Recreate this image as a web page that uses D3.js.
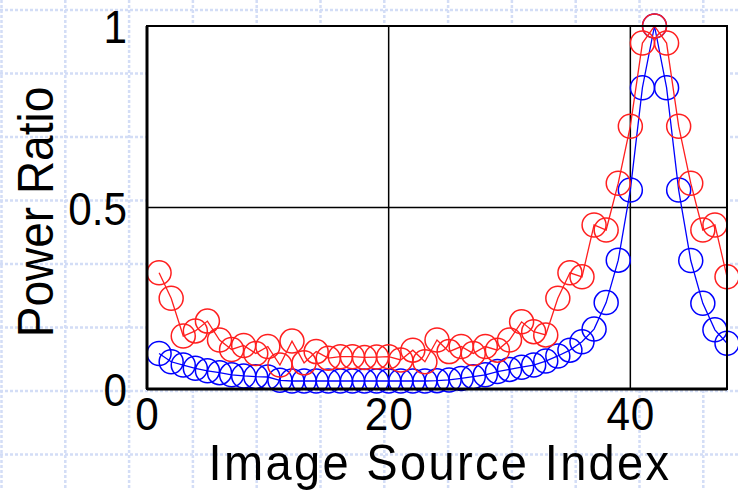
<!DOCTYPE html>
<html>
<head>
<meta charset="utf-8">
<script src="https://cdn.jsdelivr.net/npm/d3@7"></script>
<style>
body { margin: 0; background: #fff; }
text { font-family: "Liberation Sans", Arial, sans-serif; fill: #000; }
</style>
</head>
<body>
<script>

// image source index (x) for both series
var sourceIndex = [1, 2, 3, 4, 5, 6, 7, 8, 9, 10, 11, 12, 13, 14, 15, 16,
    17, 18, 19, 20, 21, 22, 23, 24, 25, 26, 27, 28, 29, 30, 31, 32,
    33, 34, 35, 36, 37, 38, 39, 40, 41, 42, 43, 44, 45, 46, 47, 48];

var redRatio = [0.32, 0.25, 0.146, 0.16, 0.187, 0.135, 0.109, 0.12, 0.098, 0.117, 0.066, 0.132,
    0.072, 0.103, 0.085, 0.089, 0.089, 0.087, 0.088, 0.089, 0.080, 0.107, 0.075, 0.135,
    0.103, 0.117, 0.098, 0.117, 0.107, 0.135, 0.185, 0.158, 0.149, 0.25, 0.32, 0.309,
    0.452, 0.438, 0.567, 0.724, 0.953, 1.0, 0.953, 0.724, 0.567, 0.438, 0.452, 0.309];

var blueRatio = [0.098, 0.075, 0.066, 0.057, 0.050, 0.045, 0.039, 0.036, 0.034, 0.033, 0.024, 0.022,
    0.022, 0.022, 0.022, 0.022, 0.022, 0.022, 0.022, 0.022, 0.022, 0.022, 0.022, 0.023,
    0.025, 0.029, 0.034, 0.039, 0.048, 0.054, 0.060, 0.066, 0.077, 0.091, 0.107, 0.13,
    0.165, 0.238, 0.355, 0.548, 0.83, 1.0, 0.83, 0.548, 0.354, 0.236, 0.163, 0.126];

var xTicks = [0, 20, 40];
var yTicks = [0, 0.5, 1];
var yTickLabels = ["0", "0.5", "1"];

var width = 738,
    height = 490,
    margin = {top: 26, right: 11, bottom: 101, left: 147};

var x = d3.scaleLinear().domain([0, 48]).range([margin.left, width - margin.right]);
var y = d3.scaleLinear().domain([0, 1]).range([height - margin.bottom, margin.top]);

var svg = d3.select("body").append("svg")
    .attr("width", width)
    .attr("height", height);

// graph-paper background
var paper = svg.append("g");
paper.selectAll(".vp")
    .data(d3.range(1.5, width, 63.8))
    .enter().append("line")
    .attr("x1", function(d) { return d; })
    .attr("x2", function(d) { return d; })
    .attr("y1", 0).attr("y2", height);
paper.selectAll(".hp")
    .data(d3.range(10, height, 63.5))
    .enter().append("line")
    .attr("y1", function(d) { return d; })
    .attr("y2", function(d) { return d; })
    .attr("x1", 0).attr("x2", width);
paper.selectAll("line")
    .attr("stroke", "#d3ddf6")
    .attr("stroke-width", 2.5)
    .attr("stroke-dasharray", "3,2");

// plot area
svg.append("rect")
    .attr("x", x(0)).attr("y", y(1))
    .attr("width", x(48) - x(0))
    .attr("height", y(0) - y(1))
    .attr("fill", "#fff");

// grid lines
svg.selectAll(".gx")
    .data([20, 40])
    .enter().append("line")
    .attr("x1", function(d) { return x(d); })
    .attr("x2", function(d) { return x(d); })
    .attr("y1", y(0)).attr("y2", y(1))
    .attr("stroke", "#000").attr("stroke-width", 1.5);
svg.append("line")
    .attr("x1", x(0)).attr("x2", x(48))
    .attr("y1", y(0.5)).attr("y2", y(0.5))
    .attr("stroke", "#000").attr("stroke-width", 1.5);

var line = d3.line()
    .x(function(d) { return x(d[0]); })
    .y(function(d) { return y(d[1]); });

function drawSeries(values, color) {
    var pts = sourceIndex.map(function(v, i) { return [v, values[i]]; });
    var g = svg.append("g");
    g.append("path")
        .datum(pts)
        .attr("d", line)
        .attr("fill", "none")
        .attr("stroke", color)
        .attr("stroke-width", 1.3);
    g.selectAll("circle")
        .data(pts)
        .enter().append("circle")
        .attr("cx", function(d) { return x(d[0]); })
        .attr("cy", function(d) { return y(d[1]); })
        .attr("r", 12)
        .attr("fill", "none")
        .attr("stroke", color)
        .attr("stroke-width", 1.5);
}

drawSeries(blueRatio, "#0000ff");
drawSeries(redRatio, "#ff1f1f");

// frame
svg.append("rect")
    .attr("x", x(0)).attr("y", y(1))
    .attr("width", x(48) - x(0))
    .attr("height", y(0) - y(1))
    .attr("fill", "none")
    .attr("stroke", "#000")
    .attr("stroke-width", 2);
svg.append("line")
    .attr("x1", x(0)).attr("x2", x(48))
    .attr("y1", y(0)).attr("y2", y(0))
    .attr("stroke", "#000").attr("stroke-width", 3);
svg.append("line")
    .attr("x1", x(0)).attr("x2", x(0))
    .attr("y1", y(0)).attr("y2", y(1))
    .attr("stroke", "#000").attr("stroke-width", 3);

// axes (labels only; ticks come from the grid and frame)
var xAxis = svg.append("g")
    .attr("transform", "translate(0," + (y(0) + 8) + ")")
    .call(d3.axisBottom(x).tickValues(xTicks).tickSize(0).tickPadding(0));
var yAxis = svg.append("g")
    .attr("transform", "translate(" + (x(0) - 20) + ",0)")
    .call(d3.axisLeft(y).tickValues(yTicks).tickSize(0).tickPadding(0)
        .tickFormat(function(d, i) { return yTickLabels[i]; }));
svg.selectAll(".domain").remove();
xAxis.selectAll("text")
    .attr("dy", "0.72em")
    .attr("transform", "scale(0.92,1)")
    .style("font-size", "46px")
    .style("font-family", "'Liberation Sans', Arial, sans-serif")
    .style("letter-spacing", "1px");
yAxis.selectAll("text")
    .attr("dy", "0.36em")
    .attr("transform", "scale(0.92,1)")
    .style("font-size", "46px")
    .style("font-family", "'Liberation Sans', Arial, sans-serif");

svg.append("text")
    .attr("transform", "translate(" + ((x(0) + x(48)) / 2 + 3) + ",480) scale(0.94,1)")
    .attr("text-anchor", "middle")
    .style("font-size", "50px")
    .style("letter-spacing", "2.5px")
    .text("Image Source Index");

svg.append("text")
    .attr("transform", "translate(53,212) rotate(-90) scale(0.92,1)")
    .attr("text-anchor", "middle")
    .style("font-size", "50px")
    .text("Power Ratio");

</script>
</body>
</html>
